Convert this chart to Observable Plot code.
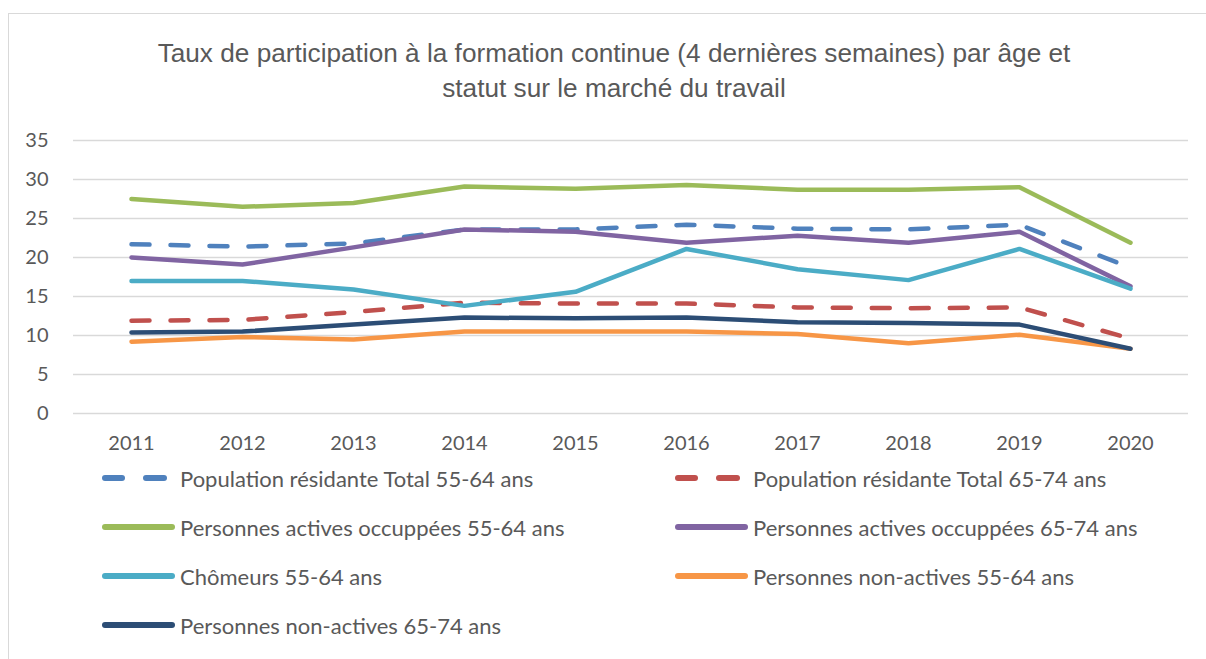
<!DOCTYPE html>
<html>
<head>
<meta charset="utf-8">
<script src="https://cdn.jsdelivr.net/npm/d3@7"></script>
<script src="https://cdn.jsdelivr.net/npm/@observablehq/plot@0.6"></script>
<style>
  html, body { margin: 0; padding: 0; background: #fff; overflow: hidden; }
  #page { position: relative; width: 1206px; height: 659px; overflow: hidden; }
  #frame { position: absolute; left: 8px; top: 13px; width: 1400px; height: 800px; border: 1px solid #d9d9d9; box-sizing: border-box; }
  #title { position: absolute; left: 0; width: 1228px; top: 36px; text-align: center; font-family: "Liberation Sans", Arial, sans-serif; font-size: 26.2px; line-height: 35px; color: #595959; }
  #chart { position: absolute; left: 0; top: 120px; }
  .leg { position: absolute; display: flex; align-items: center; font-family: Lato, sans-serif; font-size: 22px; color: #595959; white-space: nowrap; height: 30px; }
  .leg svg { display: block; margin-right: 5px; }
</style>
</head>
<body>
<div id="page">
  <div id="frame"></div>
  <div id="title">Taux de participation à la formation continue (4 dernières semaines) par âge et<br>statut sur le marché du travail</div>
  <div id="chart"></div>
  <div id="legend"></div>
</div>
<script>
const years = [2011, 2012, 2013, 2014, 2015, 2016, 2017, 2018, 2019, 2020];
const yTicks = [0, 5, 10, 15, 20, 25, 30, 35];

const popTotal5564   = [21.7, 21.4, 21.8, 23.6, 23.6, 24.2, 23.7, 23.6, 24.2, 18.7];
const popTotal6574   = [11.9, 12.0, 13.0, 14.2, 14.1, 14.1, 13.6, 13.5, 13.6, 9.6];
const actifs5564     = [27.5, 26.5, 27.0, 29.1, 28.8, 29.3, 28.7, 28.7, 29.0, 21.9];
const actifs6574     = [20.0, 19.1, 21.3, 23.6, 23.3, 21.9, 22.8, 21.9, 23.3, 16.3];
const chomeurs5564   = [17.0, 17.0, 15.9, 13.8, 15.6, 21.1, 18.5, 17.1, 21.1, 16.0];
const nonActifs5564  = [9.2, 9.8, 9.5, 10.5, 10.5, 10.5, 10.2, 9.0, 10.1, 8.3];
const nonActifs6574  = [10.4, 10.5, 11.4, 12.3, 12.2, 12.3, 11.7, 11.6, 11.4, 8.3];

const seriesNames = [
  "Population résidante Total 55-64 ans",
  "Population résidante Total 65-74 ans",
  "Personnes actives occuppées 55-64 ans",
  "Personnes actives occuppées 65-74 ans",
  "Chômeurs 55-64 ans",
  "Personnes non-actives 55-64 ans",
  "Personnes non-actives 65-74 ans"
];
const seriesValues = [popTotal5564, popTotal6574, actifs5564, actifs6574, chomeurs5564, nonActifs5564, nonActifs6574];
const seriesColors = ["#4F81BD", "#C0504D", "#9BBB59", "#8064A2", "#4BACC6", "#F79646", "#2C4D75"];
const seriesDashed = [true, true, false, false, false, false, false];

const series = seriesNames.map((name, i) => ({
  name, color: seriesColors[i], dashed: seriesDashed[i],
  data: years.map((y, j) => ({year: y, value: seriesValues[i][j]}))
}));

const chart = Plot.plot({
  width: 1206,
  height: 340,
  marginLeft: 73,
  marginRight: 18,
  marginTop: 20,
  marginBottom: 47,
  style: {fontFamily: "Lato, sans-serif", fontSize: "20px", color: "#595959", background: "transparent"},
  x: {type: "point", domain: years, padding: 0.5, label: null},
  y: {domain: [0, 35], label: null},
  marks: [
    Plot.gridY(yTicks, {stroke: "#d9d9d9", strokeOpacity: 1, strokeWidth: 1.3}),
    Plot.axisY(yTicks, {tickSize: 0, tickPadding: 25, label: null, fill: "#595959", fontSize: 20}),
    Plot.axisX(years, {tickSize: 0, tickPadding: 22, label: null, fill: "#595959", fontSize: 20, tickFormat: d => String(d)}),
    ...series.map(s => Plot.line(s.data, {
      x: "year", y: "value", stroke: s.color, strokeWidth: 4.5,
      strokeLinecap: "round", strokeLinejoin: "round",
      strokeDasharray: s.dashed ? "18,21" : null
    }))
  ]
});
document.getElementById("chart").appendChild(chart);

// legend
const legend = document.getElementById("legend");
const colX = [102, 675];
const rowY = [478, 527, 576, 625];
series.forEach((s, i) => {
  const col = i % 2, row = Math.floor(i / 2);
  const div = document.createElement("div");
  div.className = "leg";
  div.style.left = colX[col] + "px";
  div.style.top = (rowY[row] - 15) + "px";
  const w = 73;
  let svg = `<svg width="${w}" height="10" viewBox="0 0 ${w} 10">`;
  if (s.dashed) {
    svg += `<line x1="3" y1="5" x2="20" y2="5" stroke="${s.color}" stroke-width="6" stroke-linecap="round"/>`;
    svg += `<line x1="44" y1="5" x2="62" y2="5" stroke="${s.color}" stroke-width="6" stroke-linecap="round"/>`;
  } else {
    svg += `<line x1="3" y1="5" x2="${w - 3}" y2="5" stroke="${s.color}" stroke-width="6" stroke-linecap="round"/>`;
  }
  svg += `</svg>`;
  div.innerHTML = svg + `<span>${s.name}</span>`;
  legend.appendChild(div);
});
</script>
</body>
</html>
